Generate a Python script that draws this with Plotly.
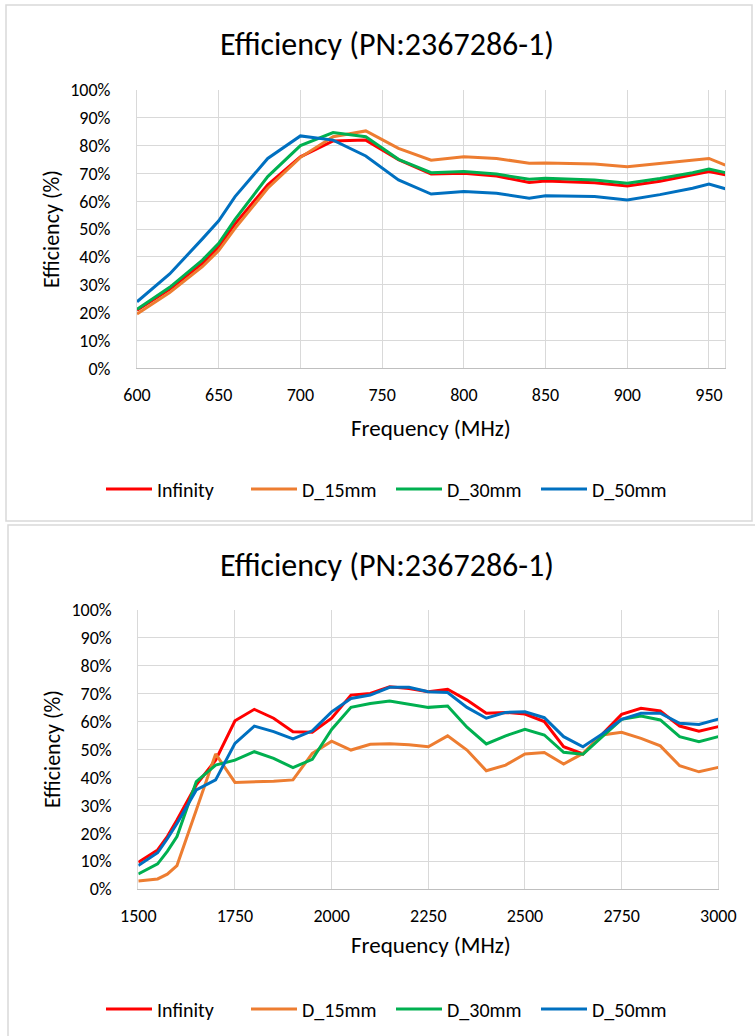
import plotly.graph_objects as go

# ---------------- data ----------------
series_names = ["Infinity", "D_15mm", "D_30mm", "D_50mm"]
series_colors = ["#FF0000", "#ED7D31", "#00B050", "#0070C0"]

freq_low = [600, 620, 640, 650, 660, 680, 700, 720, 740, 760, 780, 800, 820, 840,
            850, 880, 900, 920, 940, 950, 960]
low_infinity = [20.9, 28.4, 37.7, 43.7, 51.9, 65.9, 76.0, 81.7, 82.0, 75.0, 69.8, 70.1,
                69.1, 66.8, 67.3, 66.7, 65.5, 67.2, 69.5, 70.7, 69.5]
low_d15 = [19.5, 27.2, 36.5, 42.3, 50.3, 64.7, 75.8, 83.2, 85.3, 79.0, 74.8, 76.0,
           75.4, 73.7, 73.8, 73.4, 72.4, 73.6, 74.8, 75.4, 73.0]
low_d30 = [21.2, 29.1, 38.9, 44.9, 53.5, 68.9, 80.0, 84.7, 83.2, 75.1, 70.3, 70.7,
           69.8, 67.9, 68.3, 67.7, 66.5, 68.2, 70.3, 71.6, 70.3]
low_d50 = [23.9, 33.9, 46.5, 53.0, 61.7, 75.4, 83.5, 82.0, 76.3, 67.7, 62.6, 63.5,
           62.9, 61.1, 62.0, 61.7, 60.5, 62.4, 64.7, 66.2, 64.5]

freq_high = [1500, 1550, 1575, 1600, 1650, 1700, 1750, 1800, 1850, 1900, 1950, 2000,
             2050, 2100, 2150, 2200, 2250, 2300, 2350, 2400, 2450, 2500, 2550, 2600,
             2650, 2700, 2750, 2800, 2850, 2900, 2950, 3000]
high_infinity = [9.6, 14.0, 18.8, 24.7, 37.3, 46.2, 60.3, 64.4, 61.2, 56.4, 56.2, 61.2,
                 69.5, 70.1, 72.5, 71.9, 70.7, 71.6, 67.7, 63.0, 63.3, 62.7, 60.0, 51.0,
                 48.4, 55.6, 62.6, 64.8, 63.8, 58.4, 56.6, 58.2]
high_d15 = [2.9, 3.6, 5.3, 8.4, 28.3, 48.4, 38.2, 38.4, 38.6, 39.1, 48.6, 53.0,
            49.8, 51.9, 52.1, 51.7, 51.0, 54.9, 49.8, 42.4, 44.4, 48.4, 48.9, 44.8,
            48.6, 55.2, 56.2, 54.0, 51.3, 44.2, 42.0, 43.6]
high_d30 = [5.4, 9.0, 13.5, 18.8, 38.5, 44.4, 46.2, 49.2, 46.8, 43.5, 46.5, 57.2,
            65.1, 66.5, 67.4, 66.3, 65.1, 65.6, 58.0, 52.0, 54.9, 57.2, 55.2, 49.0,
            48.3, 54.6, 60.8, 62.0, 60.6, 54.6, 52.8, 54.6]
high_d50 = [8.4, 13.0, 18.0, 23.5, 35.5, 39.1, 52.2, 58.4, 56.4, 53.8, 56.7, 63.5,
            68.3, 69.5, 72.3, 72.3, 70.7, 70.4, 65.1, 61.2, 63.3, 63.5, 61.4, 54.6,
            51.0, 55.6, 60.8, 63.0, 63.0, 59.4, 59.0, 60.9]

title_text = "Efficiency (PN:2367286-1)"
x_title = "Frequency (MHz)"
y_title = "Efficiency (%)"
low_xticks = [600, 650, 700, 750, 800, 850, 900, 950]
high_xticks = [1500, 1750, 2000, 2250, 2500, 2750, 3000]
y_ticks = [0, 10, 20, 30, 40, 50, 60, 70, 80, 90, 100]
y_ticklabels = ["0%", "10%", "20%", "30%", "40%", "50%", "60%", "70%", "80%", "90%", "100%"]

# ---------------- figure ----------------
W, H = 755, 1036
FONT = "Calibri, Carlito, Lato, sans-serif"
TXT = "#000000"

def px(x):
    return x / W

def py(y):
    return 1 - y / H

fig = go.Figure()

low_sets = [low_infinity, low_d15, low_d30, low_d50]
high_sets = [high_infinity, high_d15, high_d30, high_d50]
for name, color, vals in zip(series_names, series_colors, low_sets):
    fig.add_trace(go.Scatter(x=freq_low, y=vals, name=name, mode="lines",
                             line=dict(color=color, width=3),
                             xaxis="x", yaxis="y", legend="legend"))
for name, color, vals in zip(series_names, series_colors, high_sets):
    fig.add_trace(go.Scatter(x=freq_high, y=vals, name=name, mode="lines",
                             line=dict(color=color, width=3),
                             xaxis="x2", yaxis="y2", legend="legend2"))

grid = "#d9d9d9"
TICK = 18
common_x = dict(showgrid=True, gridcolor=grid, gridwidth=1, zeroline=False,
                showline=True, linecolor="#bfbfbf", linewidth=1, ticks="",
                automargin=False,
                tickfont=dict(family=FONT, size=TICK, color=TXT), ticklabelstandoff=10)
common_y = dict(showgrid=True, gridcolor=grid, gridwidth=1, zeroline=False,
                showline=True, linecolor=grid, linewidth=1, mirror=True, ticks="",
                automargin=False,
                range=[0, 100], tickmode="array", tickvals=y_ticks, ticktext=y_ticklabels,
                tickfont=dict(family=FONT, size=TICK, color=TXT), ticklabelstandoff=22)

LEG = 20
legend_common = dict(orientation="h", xanchor="center", yanchor="middle",
                     font=dict(family=FONT, size=LEG, color=TXT),
                     bgcolor="rgba(0,0,0,0)", itemwidth=46,
                     entrywidth=84, entrywidthmode="pixels")
fig.update_layout(
    width=W, height=H,
    margin=dict(l=0, r=0, t=0, b=0, autoexpand=False),
    paper_bgcolor="white", plot_bgcolor="white",
    font=dict(family=FONT, color=TXT),
    xaxis=dict(common_x, domain=[px(137), px(725.3)], range=[600, 960],
               tickmode="array", tickvals=low_xticks, anchor="y"),
    yaxis=dict(common_y, domain=[py(368.3), py(90)], anchor="x"),
    xaxis2=dict(common_x, domain=[px(138.3), px(718.3)], range=[1500, 3000],
                tickmode="array", tickvals=high_xticks, anchor="y2"),
    yaxis2=dict(common_y, domain=[py(889), py(610)], anchor="x2"),
    legend=dict(legend_common, x=px(391), y=py(489)),
    legend2=dict(legend_common, x=px(391), y=py(1009)),
    showlegend=True,
)

# chart frames
fig.add_shape(type="rect", xref="paper", yref="paper",
              x0=px(6), x1=px(752), y0=py(521), y1=py(5),
              line=dict(color=grid, width=1.5), fillcolor="rgba(0,0,0,0)", layer="below")
fig.add_shape(type="rect", xref="paper", yref="paper",
              x0=px(8), x1=px(770), y0=py(1050), y1=py(525),
              line=dict(color=grid, width=1.5), fillcolor="rgba(0,0,0,0)", layer="below")

# titles / axis titles
for (tx, ty) in [(387, 45), (387, 565)]:
    fig.add_annotation(text=title_text, x=px(tx), y=py(ty), xref="paper", yref="paper",
                       showarrow=False, xanchor="center", yanchor="middle",
                       font=dict(family=FONT, size=32, color=TXT))
for (tx, ty) in [(431, 428), (431, 945)]:
    fig.add_annotation(text=x_title, x=px(tx), y=py(ty), xref="paper", yref="paper",
                       showarrow=False, xanchor="center", yanchor="middle",
                       font=dict(family=FONT, size=23, color=TXT))
for (tx, ty) in [(52, 229), (52, 749)]:
    fig.add_annotation(text=y_title, x=px(tx), y=py(ty), xref="paper", yref="paper",
                       showarrow=False, xanchor="center", yanchor="middle", textangle=-90,
                       font=dict(family=FONT, size=22, color=TXT))

fig.write_html("out.html", config={"displayModeBar": False},
               post_script="document.body.style.margin='0';")
